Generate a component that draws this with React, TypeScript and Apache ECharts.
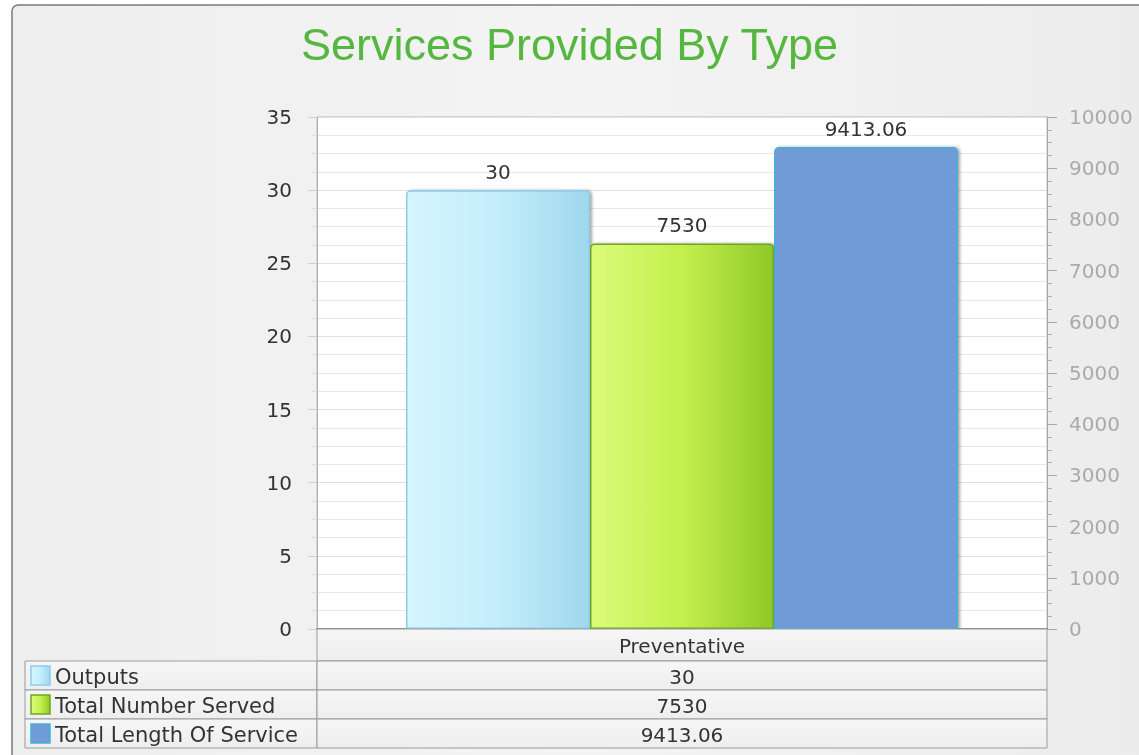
import React, { useEffect, useRef } from "react";
import * as echarts from "echarts";

const categories = ["Preventative"];
const seriesNames = ["Outputs", "Total Number Served", "Total Length Of Service"];
const outputs = [30];
const totalNumberServed = [7530];
const totalLengthOfService = [9413.06];
const leftAxis = { min: 0, max: 35, interval: 5 };
const rightAxis = { min: 0, max: 10000, interval: 1000 };

const FONT = "DejaVu Sans";
const GRID = { left: 317, top: 117, width: 730, height: 512 };

const fills = [
  new echarts.graphic.LinearGradient(0, 0, 1, 0, [
    { offset: 0, color: "#d6f5fe" },
    { offset: 0.5, color: "#c3eefb" },
    { offset: 1, color: "#9fd7ee" },
  ]),
  new echarts.graphic.LinearGradient(0, 0, 1, 0, [
    { offset: 0, color: "#dbfb7a" },
    { offset: 0.5, color: "#c4f04e" },
    { offset: 1, color: "#8fc928" },
  ]),
  "#6f9bd6",
];
const borders = ["#8ccdec", "#6fa622", "#45b0d8"];

export default function App() {
  const ref = useRef<HTMLDivElement>(null);
  useEffect(() => {
    if (!ref.current) return;
    const chart = echarts.init(ref.current, null, { renderer: "svg" });
    const values = [outputs, totalNumberServed, totalLengthOfService];

    const tableTop = GRID.top + GRID.height; // 629
    const headerH = 32;
    const rowH = 29;
    const colL = 25;
    const colM = GRID.left;
    const colR = GRID.left + GRID.width;
    const lineColor = "#9a9a9a";
    const cellFill = new echarts.graphic.LinearGradient(0, 0, 0, 1, [
      { offset: 0, color: "#f6f6f6" },
      { offset: 1, color: "#eeeeee" },
    ]);

    const graphic: any[] = [];
    graphic.push({
      type: "rect",
      z: -10,
      shape: { x: 12, y: 5, width: 1140, height: 760, r: 6 },
      style: {
        fill: new echarts.graphic.LinearGradient(0, 0, 1, 0, [
          { offset: 0, color: "#eeeeee" },
          { offset: 0.5, color: "#f4f4f4" },
          { offset: 1, color: "#ececec" },
        ]),
        stroke: "#7a7a7a",
        lineWidth: 1.5,
      },
    });
    // header cell
    graphic.push({
      type: "rect",
      z: 5,
      shape: { x: colM, y: tableTop, width: colR - colM, height: headerH },
      style: { fill: cellFill, stroke: lineColor, lineWidth: 1 },
    });
    categories.forEach((c) => {
      graphic.push({
        type: "text",
        z: 6,
        x: (colM + colR) / 2,
        y: tableTop + headerH / 2 + 1,
        style: { text: c, font: `20px '${FONT}'`, fill: "#333", align: "center", verticalAlign: "middle" },
      });
    });
    seriesNames.forEach((name, i) => {
      const y = tableTop + headerH + i * rowH;
      graphic.push({
        type: "rect",
        z: 5,
        shape: { x: colL, y, width: colM - colL, height: rowH },
        style: { fill: cellFill, stroke: lineColor, lineWidth: 1 },
      });
      graphic.push({
        type: "rect",
        z: 5,
        shape: { x: colM, y, width: colR - colM, height: rowH },
        style: { fill: cellFill, stroke: lineColor, lineWidth: 1 },
      });
      graphic.push({
        type: "rect",
        z: 6,
        shape: { x: 31, y: y + 5, width: 19, height: 19 },
        style: { fill: fills[i], stroke: borders[i], lineWidth: 1.5 },
      });
      graphic.push({
        type: "text",
        z: 6,
        x: 55,
        y: y + rowH / 2 + 1,
        style: { text: name, font: `21px '${FONT}'`, fill: "#333", align: "left", verticalAlign: "middle" },
      });
      graphic.push({
        type: "text",
        z: 6,
        x: (colM + colR) / 2,
        y: y + rowH / 2 + 1,
        style: { text: String(values[i][0]), font: `20px '${FONT}'`, fill: "#333", align: "center", verticalAlign: "middle" },
      });
    });

    const mkSeries = (i: number, yAxisIndex: number) => ({
      name: seriesNames[i],
      type: "bar",
      yAxisIndex,
      data: values[i],
      barWidth: 184,
      barGap: "0%",
      itemStyle: {
        color: fills[i],
        borderColor: borders[i],
        borderWidth: 1.5,
        borderRadius: [4, 4, 0, 0],
        shadowColor: "rgba(0,0,0,0.35)",
        shadowBlur: 3,
        shadowOffsetX: 2,
        shadowOffsetY: 0,
      },
      label: {
        show: true,
        position: "top",
        distance: 8,
        color: "#333",
        fontFamily: FONT,
        fontSize: 20,
      },
    });

    chart.setOption({
      animation: false,
      title: {
        text: "Services Provided By Type",
        left: "center",
        top: 17,
        textStyle: { fontFamily: "Liberation Sans", fontSize: 45, fontWeight: "normal", color: "#55b73e" },
      },
      grid: {
        ...GRID,
        show: true,
        backgroundColor: "#ffffff",
        borderColor: "#b8b8b8",
        borderWidth: 1,
      },
      graphic,
      xAxis: {
        type: "category",
        data: categories,
        axisLabel: { show: false },
        axisTick: { show: false },
        axisLine: { lineStyle: { color: "#8a8a8a", width: 2 } },
      },
      yAxis: [
        {
          type: "value",
          position: "left",
          ...leftAxis,
          axisLine: { show: true, lineStyle: { color: "#b0b0b0" } },
          axisTick: { show: true, length: 9, lineStyle: { color: "#cfcfcf" } },
          minorTick: { show: true, splitNumber: 4, length: 5, lineStyle: { color: "#dddddd" } },
          splitLine: { show: true, lineStyle: { color: "#e0e0e0" } },
          minorSplitLine: { show: true, lineStyle: { color: "#e8e8e8" } },
          axisLabel: { color: "#333", fontFamily: FONT, fontSize: 20, margin: 25 },
        },
        {
          type: "value",
          position: "right",
          ...rightAxis,
          axisLine: { show: true, lineStyle: { color: "#a8a8a8" } },
          axisTick: { show: true, length: 10, lineStyle: { color: "#a8a8a8" } },
          minorTick: { show: true, splitNumber: 4, length: 5, lineStyle: { color: "#b0b0b0" } },
          splitLine: { show: false },
          axisLabel: {
            color: "#aaaaaa",
            fontFamily: FONT,
            fontSize: 20,
            margin: 22,
            formatter: (v: number) => String(v),
          },
        },
      ],
      series: [mkSeries(0, 0), mkSeries(1, 1), mkSeries(2, 1)],
    });
    return () => chart.dispose();
  }, []);
  return (
    <div
      ref={ref}
      style={{ position: "fixed", left: 0, top: 0, width: 1139, height: 755 }}
    />
  );
}
